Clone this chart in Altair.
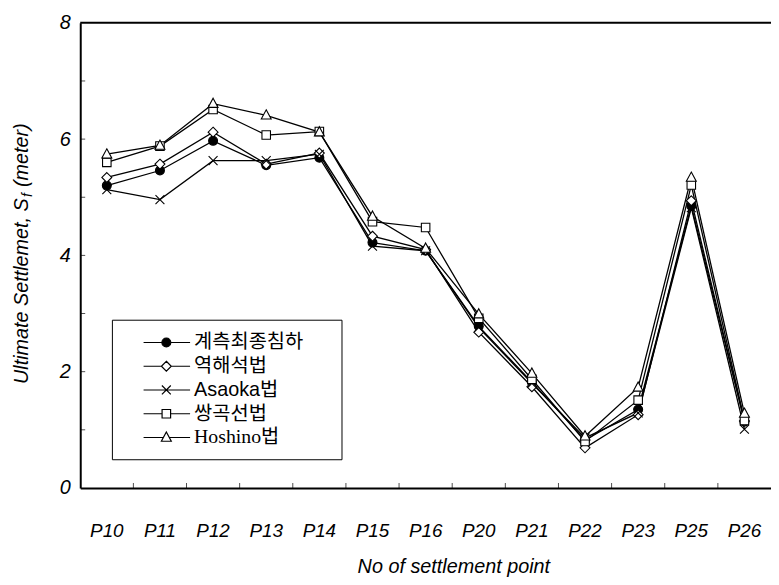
import altair as alt
import pandas as pd

# ---------------- data ----------------
points = ["P10", "P11", "P12", "P13", "P14", "P15", "P16", "P20", "P21", "P22", "P23", "P25", "P26"]
methods = ["계측최종침하", "역해석법", "Asaoka법", "쌍곡선법", "Hoshino법"]
measured = [5.20, 5.46, 5.97, 5.55, 5.68, 4.22, 4.08, 2.78, 1.82, 0.82, 1.35, 4.85, 1.14]
back_analysis = [5.34, 5.57, 6.12, 5.57, 5.76, 4.33, 4.10, 2.68, 1.74, 0.69, 1.26, 4.94, 1.15]
asaoka = [5.13, 4.96, 5.63, 5.63, 5.74, 4.16, 4.08, 2.76, 1.80, 0.86, 1.29, 4.82, 1.01]
hyperbolic = [5.60, 5.88, 6.51, 6.07, 6.13, 4.58, 4.48, 2.92, 1.87, 0.80, 1.51, 5.21, 1.16]
hoshino = [5.74, 5.89, 6.61, 6.41, 6.12, 4.67, 4.12, 2.99, 1.97, 0.89, 1.73, 5.34, 1.28]
y_label_values = [0, 2, 4, 6, 8]
y_minor_ticks = [1, 2, 3, 4, 5, 6, 7]

series = [measured, back_analysis, asaoka, hyperbolic, hoshino]
rows = []
for m, vals in zip(methods, series):
    for p, v in zip(points, vals):
        rows.append({"point": p, "method": m, "value": v})
df = pd.DataFrame(rows)

# ---------------- marker geometry (style) ----------------
kinds = ["circle", "diamond", "x", "square", "triangle"]
fills = ["black", "white", "white", "white", "white"]
strokes = ["black"] * 5


def _p(x, y, s):
    return f"{x / s:.4f},{y / s:.4f}"


def poly(pts, s):
    return "M" + "L".join(_p(x, y, s) for x, y in pts) + "Z"


def seg(x1, y1, x2, y2, s):
    return "M" + _p(x1, y1, s) + "L" + _p(x2, y2, s)


def circ(r, s):
    rr = f"{r / s:.4f}"
    return ("M" + _p(r, 0, s) + f"A{rr},{rr},0,1,1," + _p(-r, 0, s)
            + f"A{rr},{rr},0,1,1," + _p(r, 0, s) + "Z")


def marker(kind, s):
    if kind == "circle":
        return circ(4.5, s), 4.5
    if kind == "diamond":
        return poly([(0, -5), (5, 0), (0, 5), (-5, 0)], s), 5.0
    if kind == "x":
        return seg(-4.5, -4.5, 4.5, 4.5, s) + seg(-4.5, 4.5, 4.5, -4.5, s), 0.0
    if kind == "square":
        return poly([(-4.3, -4.3), (4.3, -4.3), (4.3, 4.3), (-4.3, 4.3)], s), 4.3
    return poly([(0, -5.5), (5, 3.8), (-5, 3.8)], s), 3.0


POINT_SIZE = 100            # sqrt/2 = 5 px per path unit
point_paths = [marker(k, 5.0)[0] for k in kinds]

LEG_SIZE = 400              # sqrt/2 = 10 px per path unit
legend_paths = []
for k in kinds:
    body, gap = marker(k, 10.0)
    stubs = seg(-23, 0, -gap, 0, 10.0) + seg(gap, 0, 24, 0, 10.0)
    legend_paths.append(stubs + body)

FONT = "Liberation Sans"

# ---------------- scales / axes ----------------
x_scale = alt.Scale(type="band", paddingInner=0, paddingOuter=0)
y_scale = alt.Scale(domain=[0, 8], nice=False, zero=True)

x_axis = alt.Axis(
    title="No of settlement point", titleFont=FONT, titleFontSize=20,
    titleFontStyle="italic", titleFontWeight="normal", titleColor="black",
    titlePadding=16, titleX=377, titleAlign="center",
    labelFont=FONT, labelFontSize=19, labelFontStyle="italic", labelColor="black",
    labelAngle=0, labelPadding=34, ticks=False, tickSize=0, grid=False,
    domain=True, domainColor="black", domainWidth=2,
)
y_axis = alt.Axis(
    title=None, values=y_label_values, labelFont=FONT, labelFontSize=20,
    labelFontStyle="italic", labelColor="black", labelPadding=10,
    ticks=False, tickSize=0, grid=False, domain=True, domainColor="black", domainWidth=2,
)


def X(band=0.5, field="point"):
    return alt.X(f"{field}:N", sort=points, scale=x_scale, axis=x_axis, bandPosition=band)


def Y(field="value"):
    return alt.Y(f"{field}:Q", scale=y_scale, axis=y_axis)


base = alt.Chart(df)

lines = base.mark_line(color="black", strokeWidth=1.3).encode(
    x=X(), y=Y(), detail="method:N"
)

pts = base.mark_point(filled=True, stroke="black", strokeWidth=1.1, opacity=1, size=POINT_SIZE).encode(
    x=X(), y=Y(),
    shape=alt.Shape("method:N", scale=alt.Scale(domain=methods, range=point_paths), legend=None),
    fill=alt.Fill("method:N", scale=alt.Scale(domain=methods, range=fills), legend=None),
)

leg = alt.Legend(
    title="I", titleOrient="right", titleColor="white", titleFontSize=2, titlePadding=26,
    orient="none", legendX=32, legendY=300,
    strokeColor="black", fillColor="white", padding=12,
    symbolSize=LEG_SIZE, symbolStrokeWidth=1.2,
    symbolOffset=32, labelOffset=17,
    labelFontSize=20, labelColor="black", rowPadding=3,
    labelFont=alt.ExprRef(
        expr="datum.label == 'Hoshino법' ? 'Liberation Serif, Noto Sans CJK KR' : 'Liberation Sans, Noto Sans CJK KR'"
    ),
)

legend_layer = base.transform_filter("false").mark_point(
    filled=True, strokeWidth=1.2, opacity=1
).encode(
    x=X(), y=Y(),
    shape=alt.Shape("method:N", scale=alt.Scale(domain=methods, range=legend_paths), legend=leg),
    fill=alt.Fill("method:N", scale=alt.Scale(domain=methods, range=fills), legend=leg),
    stroke=alt.Stroke("method:N", scale=alt.Scale(domain=methods, range=strokes), legend=leg),
)

ytick_layer = alt.Chart(pd.DataFrame({"value": y_minor_ticks})).mark_tick(
    orient="horizontal", color="black", thickness=1, size=5
).encode(y=Y(), x=alt.value(2.5))

xtick_layer = alt.Chart(pd.DataFrame({"point": points[1:]})).mark_tick(
    orient="vertical", color="black", thickness=1, size=5
).encode(x=X(band=0), y=alt.value(467.5))

top_rule = alt.Chart(pd.DataFrame({"value": [8]})).mark_rule(color="black", strokeWidth=2).encode(y=Y())

one = pd.DataFrame({"a": [0]})
tA = alt.Chart(one).mark_text(
    text="Ultimate Settlemet, S", angle=270, align="left", baseline="middle",
    font=FONT, fontSize=20, fontStyle="italic", color="black"
).encode(x=alt.value(-59), y=alt.value(365))
tB = alt.Chart(one).mark_text(
    text="f", angle=270, align="left", baseline="middle",
    font=FONT, fontSize=14, fontStyle="italic", color="black"
).encode(x=alt.value(-53), y=alt.value(176))
tC = alt.Chart(one).mark_text(
    text="(meter)", angle=270, align="left", baseline="middle",
    font=FONT, fontSize=20, fontStyle="italic", color="black"
).encode(x=alt.value(-59), y=alt.value(166))

chart = alt.layer(
    top_rule, ytick_layer, xtick_layer, lines, pts, legend_layer, tA, tB, tC
).resolve_scale(
    shape="independent", fill="independent", stroke="independent"
).properties(
    width=698, height=470,
    autosize=alt.AutoSizeParams(type="none"),
    padding={"left": 73, "top": 12, "right": 0, "bottom": 87},
    background="white",
).configure_view(stroke=None)

chart.save("out.html", embed_options={"renderer": "svg", "actions": False})
